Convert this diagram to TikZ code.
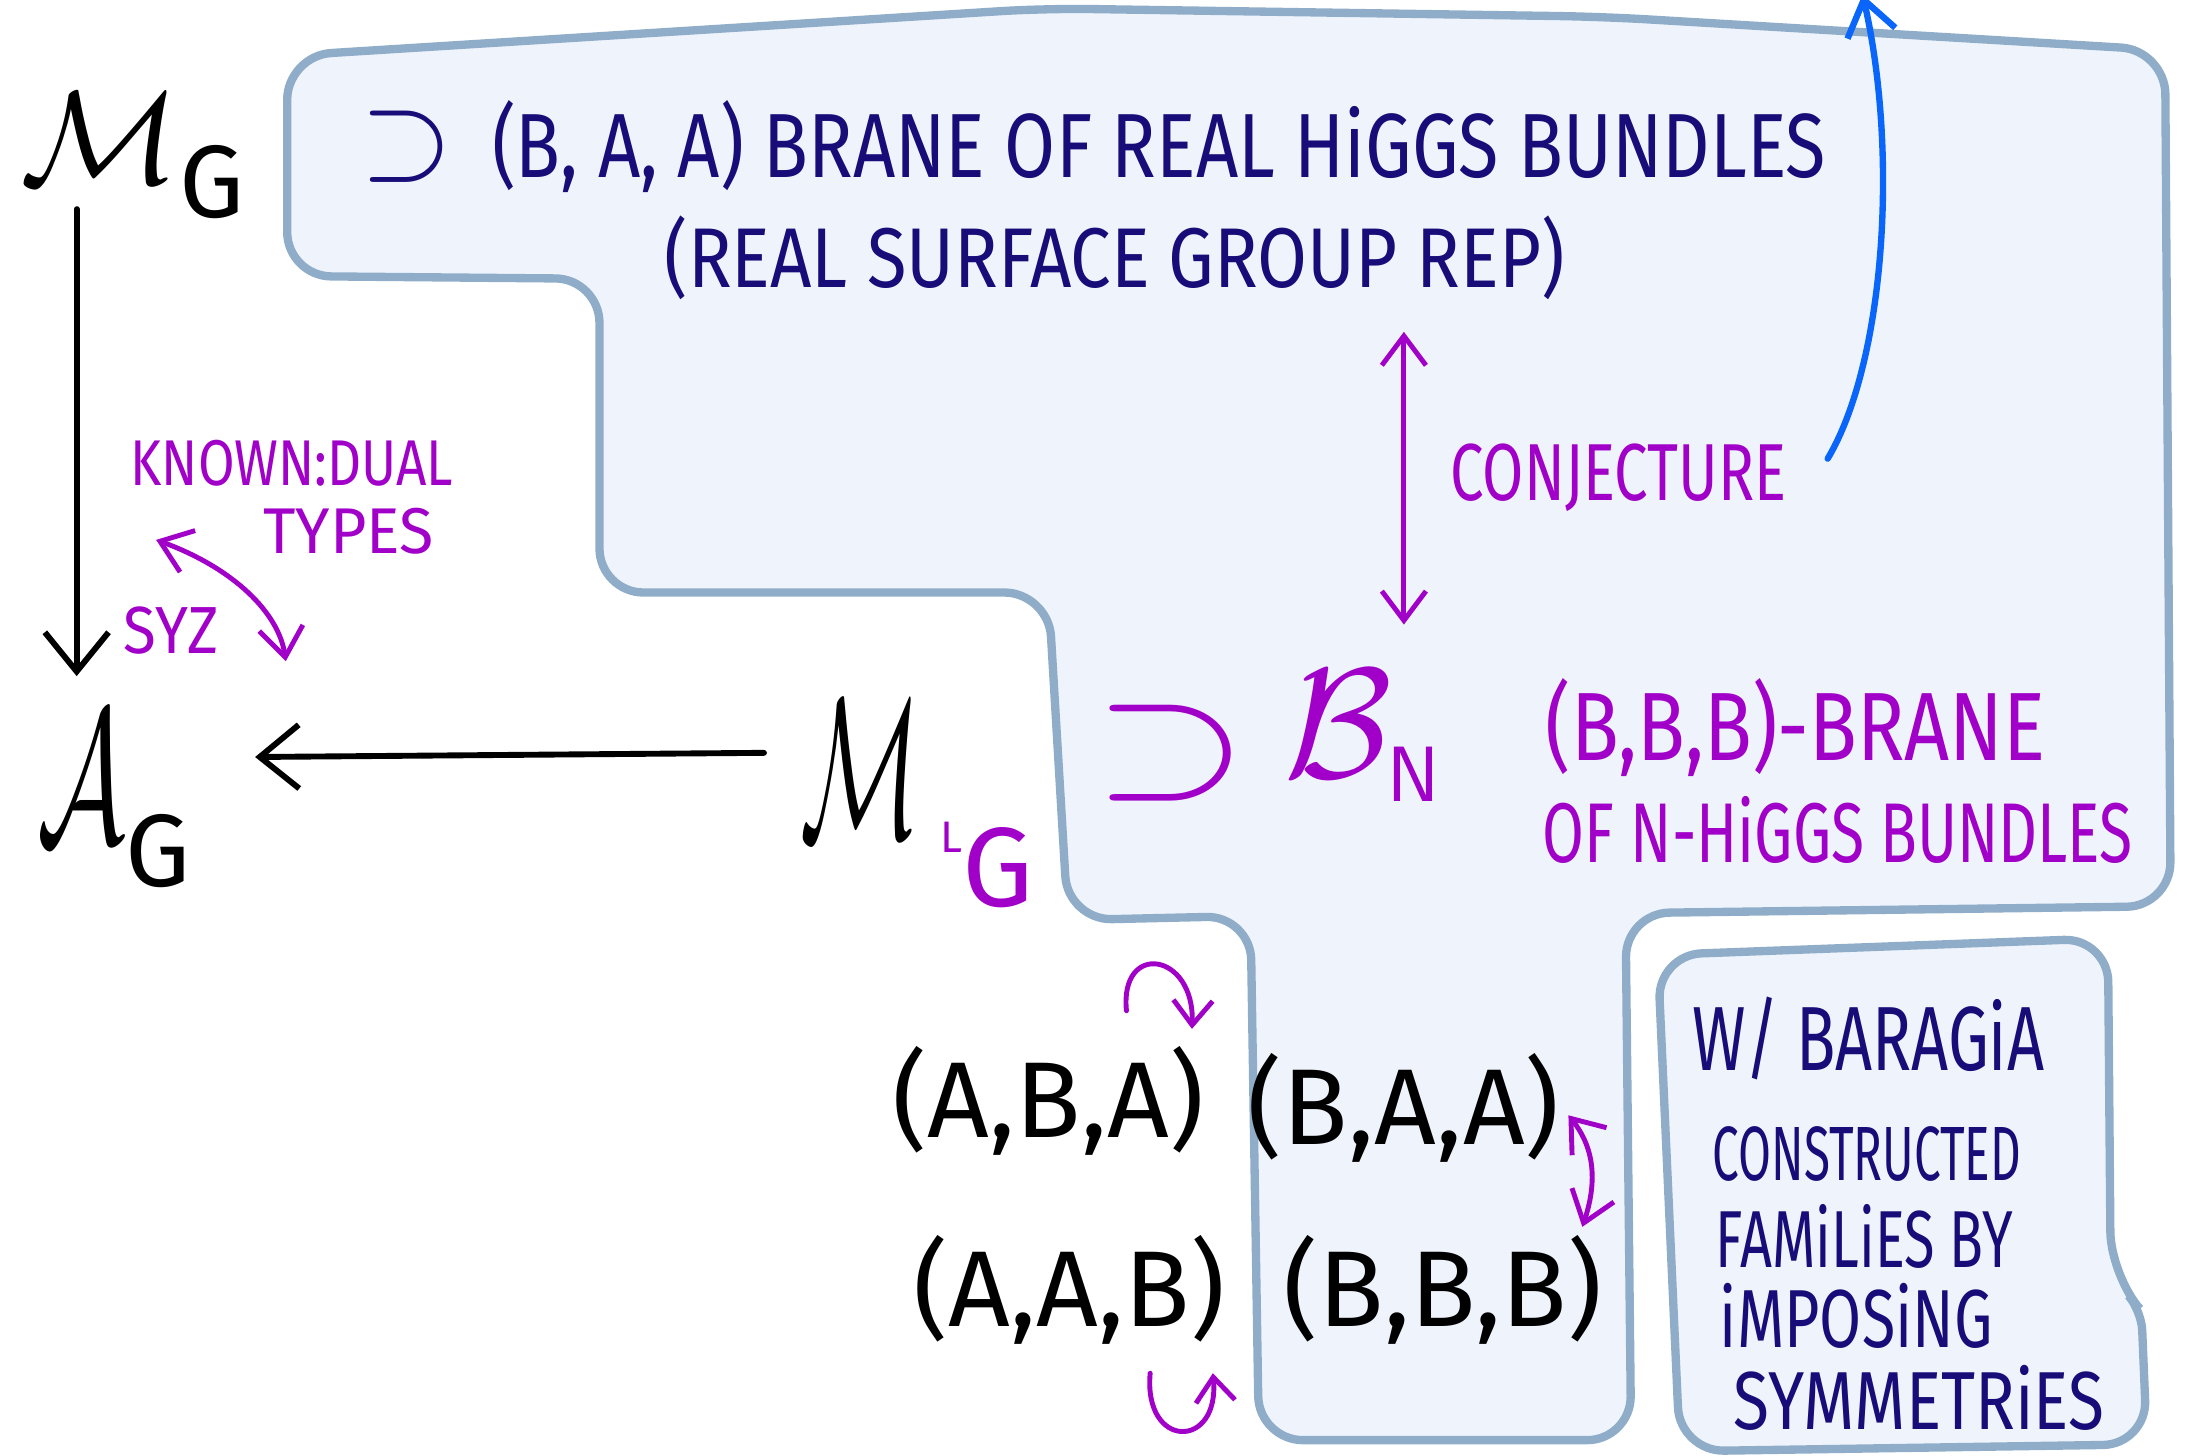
\RequirePackage{fix-cm}
\documentclass[tikz,border=0pt]{standalone}
\usepackage{fontspec}
\usepackage{amsmath}
\usepackage{graphicx}
\usetikzlibrary{arrows.meta,calc}
\newfontfamily\handfont{Fira Sans}
% condensed marker lettering: \ink{stretch}{size}{text}
\newcommand{\ink}[3]{\scalebox{#1}[1]{\fontsize{#2}{#2}\selectfont\handfont #3}}
\definecolor{inkblue}{HTML}{170C78}
\definecolor{inkpurple}{HTML}{A000C8}
\definecolor{edgeblue}{HTML}{8FADC9}
\definecolor{fillblue}{HTML}{EFF4FC}
\definecolor{arrowblue}{HTML}{0A66FA}
\tikzset{
  region/.style={draw=edgeblue, fill=fillblue, line width=1.7pt, rounded corners=9pt},
  tag/.style={inner sep=0pt},
  navytext/.style={tag, text=inkblue},
  purpletext/.style={tag, text=inkpurple},
  tuple/.style={tag, font=\fontsize{22}{22}\selectfont\handfont},
  maparrow/.style={line width=1.2pt, line cap=round, -{Straight Barb[length=8pt,width=13pt]}},
  duality/.style={draw=inkpurple, line width=1pt, line cap=round, {Straight Barb[length=6pt,width=9pt]}-{Straight Barb[length=6pt,width=9pt]}},
  flip/.style={draw=inkpurple, line width=1pt, line cap=round, -{Straight Barb[length=5pt,width=8pt]}},
}

\begin{document}
\begin{tikzpicture}[x=0.1mm,y=-0.1mm]
  \useasboundingbox (0,0) rectangle (1568,1044);

  % Shaded regions
  \draw[region] (206,40) -- (750,6) -- (1150,12) -- (1553,36) -- (1557,650) -- (1166,655)
    -- (1170,1033) -- (903,1033) -- (897,657) -- (766,660) -- (752,425) -- (430,425)
    -- (430,200) -- (206,198) -- cycle;
  \draw[region] (1189,685) -- (1512,673) -- (1514,915) [rounded corners=4pt] -- (1536,940)
    [rounded corners=9pt] -- (1540,1036) -- (1205,1041) -- cycle;

  % Moduli spaces
  \node[tag] (mg) at (95,112) {\fontsize{27}{27}\selectfont$\mathcal{M}$\raisebox{-7pt}{\fontsize{21}{21}\selectfont\handfont G}};
  \node[tag] (ag) at (82,574) {\fontsize{30}{30}\selectfont\scalebox{0.75}[1.3]{$\mathcal{A}$}\raisebox{-9pt}{\fontsize{21}{21}\selectfont\handfont G}};
  \node[tag] (mlg) at (658,577) {\fontsize{34}{34}\selectfont\scalebox{0.6}[1.2]{$\mathcal{M}$}\hspace{4pt}\raisebox{-14pt}{\color{inkpurple}\raisebox{11pt}{\fontsize{9}{9}\selectfont\handfont L}\fontsize{23}{23}\selectfont\handfont G}};

  % Maps
  \draw[maparrow] ($(mg)+(-40,38)$) -- ($(ag)+(-27,-89)$);
  \draw[maparrow] ($(mlg)+(-110,-37)$) -- ($(ag)+(101,-31)$);

  % Known duality
  \node[purpletext, anchor=west] (known) at (93,332) {\ink{0.82}{13.2}{KNOWN:DUAL}};
  \node[purpletext, anchor=west] (types) at (188,381) {\ink{0.97}{13.2}{TYPES}};
  \node[purpletext, anchor=west] (syz) at (88,452) {\ink{0.9}{13.6}{SYZ}};
  \draw[duality] ($(syz.north west)+(24,-47)$) .. controls +(55,20) and +(-5,-35) .. ($(syz.north west)+(117,40)$);

  % Real Higgs bundles
  \node[navytext, anchor=west] (baa) at (258,105) {\scalebox{1.3}[1.35]{\fontsize{18.6}{18.6}\selectfont$\supset$}\hspace{8pt}\ink{0.81}{18.6}{(B, A, A) BRANE OF REAL HiGGS BUNDLES}};
  \node[navytext, anchor=west] (real) at (476,185) {\ink{0.853}{17.3}{(REAL SURFACE GROUP REP)}};

  % Conjecture
  \coordinate (conjtop) at (1007,238);
  \coordinate (conjbot) at (1007,448);
  \draw[duality] (conjtop) -- (conjbot) node[purpletext, midway, anchor=west, xshift=9pt] (conj) {\ink{0.74}{16.5}{CONJECTURE}};
  \coordinate (skyout) at (1336,-4);
  \draw[arrowblue, line width=1.3pt, line cap=round, -{Straight Barb[length=7pt,width=10pt]}]
    ($(conj.east)+(28,-14)$) .. controls (1352,260) and (1362,110) .. (skyout);

  % N-Higgs bundles
  \node[purpletext] (supn) at (840,540) {\fontsize{27}{27}\selectfont\scalebox{1.5}[1.25]{$\supset$}};
  \node[purpletext] (bn) at (978,528) {\fontsize{32}{32}\selectfont$\mathcal{B}_{\scriptscriptstyle\mathsf{N}}$};
  \node[purpletext, anchor=west] (bbb1) at (1108,522) {\ink{0.81}{19.8}{(B,B,B)-BRANE}};
  \node[purpletext, anchor=west] (bbb2) at (1106,595) {\ink{0.715}{17.3}{OF N-HiGGS BUNDLES}};

  % Brane types
  \node[tuple] (aba) at (752,790) {(A,B,A)};
  \node[tuple] (baa2) at (1007,795) {(B,A,A)};
  \node[tuple] (aab) at (767,925) {(A,A,B)};
  \node[tuple] (bbb) at (1035,925) {(B,B,B)};
  \draw[flip] ($(aba)+(56,-65)$) .. controls +(-5,-50) and +(2,-55) .. ($(aba)+(103,-52)$);
  \draw[flip] ($(aab)+(58,60)$) .. controls +(-5,55) and +(5,55) .. ($(aab)+(103,60)$);
  \draw[duality] ($(baa2)+(118,5)$) .. controls +(20,25) and +(10,-30) .. ($(bbb)+(100,-45)$);

  % Baraglia box
  \node[navytext, anchor=west] (wb) at (1213,745) {\ink{0.71}{18.6}{W/ BARAGiA}};
  \node[navytext, anchor=west] (cons) at (1228,828) {\ink{0.62}{15.7}{CONSTRUCTED}};
  \node[navytext, anchor=west] (fam) at (1230,887) {\ink{0.69}{16.5}{FAMiLiES BY}};
  \node[navytext, anchor=west] (imp) at (1233,944) {\ink{0.74}{16.8}{iMPOSiNG}};
  \node[navytext, anchor=west] (sym) at (1243,1003) {\ink{0.8}{16.8}{SYMMETRiES}};
\end{tikzpicture}
\end{document}
